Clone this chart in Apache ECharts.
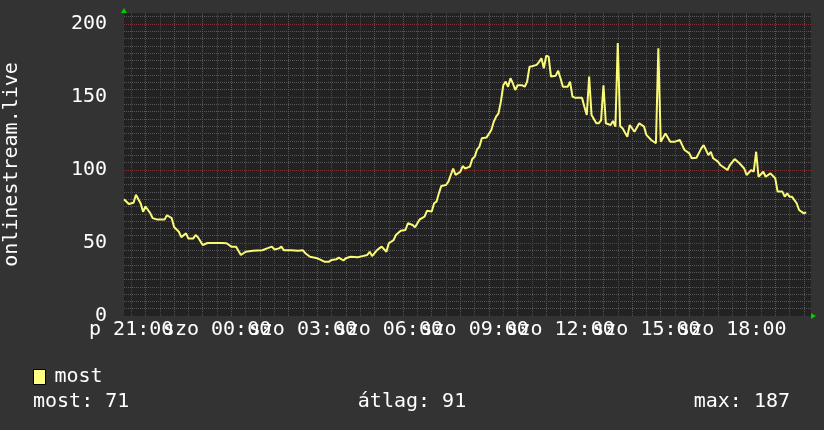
<!DOCTYPE html>
<html>
<head>
<meta charset="utf-8">
<script src="https://cdn.jsdelivr.net/npm/echarts@6/dist/echarts.min.js"></script>
<style>html,body{margin:0;padding:0;background:#333;}#c{width:824px;height:430px;}</style>
</head>
<body>
<div id="c"></div>
<script>
// Sampled readings (Fri "p" 20:45 .. Sat "szo" 20:35)
const times = ["20:45","20:55","21:05","21:10","21:20","21:25","21:30","21:40","21:45","21:55",
"22:10","22:15","22:25","22:30","22:40","22:45","22:55","23:00","23:10","23:15","23:20","23:30","23:40","23:55",
"00:10","00:20","00:30","00:40","00:50","01:00","01:15","01:35","01:45","01:55","02:00","02:10","02:15","02:20","02:35","02:50",
"03:00","03:05","03:15","03:30","03:35","03:45","03:55","04:00","04:10","04:15","04:25","04:30","04:40","04:55",
"05:05","05:15","05:20","05:25","05:35","05:40","05:45","05:55","06:00","06:10","06:15","06:25","06:35","06:40","06:50","06:55",
"07:00","07:05","07:15","07:20","07:30","07:35","07:40","07:45","07:50","08:00","08:05","08:10","08:15","08:20","08:25","08:30","08:35","08:40","08:50","08:55",
"09:00","09:05","09:10","09:15","09:25","09:35","09:40","09:45","09:50","09:55","10:00","10:05","10:10","10:15","10:20","10:25","10:30","10:40","10:45","10:50","10:55",
"11:00","11:10","11:15","11:20","11:25","11:30","11:35","11:40","11:50","11:55","12:00","12:05","12:15","12:20","12:25","12:30","12:45","12:50","12:55",
"13:00","13:05","13:15","13:20","13:25","13:30","13:35","13:45","13:50","13:55","14:00","14:05","14:10","14:20","14:25","14:35","14:45","14:55",
"15:00","15:10","15:20","15:25","15:30","15:40","15:50","16:00","16:10","16:15","16:20","16:30","16:35","16:45","16:55",
"17:00","17:10","17:15","17:20","17:30","17:35","17:50","17:55","18:05","18:15","18:25","18:30","18:40","18:45","18:50","18:55",
"19:05","19:10","19:20","19:30","19:35","19:45","19:50","19:55","20:00","20:05","20:15","20:20","20:30","20:35"];
const values = [80,76.7,77.6,83,77,71.4,75,70.5,67,66,
66,69,67,61,57.7,54,56.6,53,53,55.5,54,48.6,50,50,
50,49.8,47.5,47.5,41.8,44,44.7,45,46.3,47.5,45.6,46.3,47.5,45,45,44.7,
45,43,40.6,39.5,38.8,37.2,37.2,38.4,38.8,40,38,39.5,40.6,40.2,
41,41.8,44,41,45,46.3,47.5,44,49.8,52,55.5,58.4,58.9,63.5,62.3,60.7,
63.5,66.2,68,72,71.5,77.2,78.3,84,89,89.7,92,96.6,101,96.6,97.7,98.8,102.7,101,102.3,107.5,
109,114,116,121.7,122.3,127.4,133,136.5,138.8,146.8,158,160.5,157,162.8,159.4,154.8,158,158,157,160.5,170.7,
171,172,174,176.5,169.6,178.3,177.6,164,164.6,168,162.8,157,157,160.5,150.2,149.5,149.5,143.3,137.7,
164,137.7,132,132,134,158,132,130.8,133.6,129.7,187,130,128.5,122.8,130.8,126.2,132,129.7,
124,120.5,118.3,183.3,119.4,125,119.4,119.4,120.5,117,113.7,111.4,108,108.4,114.8,
117,110.2,112.5,108,105.7,103.4,100,103.4,107.5,104.6,101,96.6,100,98.8,112.5,95.4,
98.8,95.4,97.7,94.3,85.2,85.2,81.7,84,81.7,81.7,77.2,72.6,70.3,71];
const seriesName = "most";
const axisTitle = "onlinestream.live";
const dayNames = ["p", "szo"];
const labelHoursA = [21, 3, 9, 15];   // x tick labels, set A
const labelHoursB = [0, 6, 12, 18];   // x tick labels, set B
const statLabels = ["most", "átlag", "max"];
const statValues = [71, 91, 187];

const START = 20 * 60 + 45; // 20:45 Friday
const STEP = 5;
const SLOTS = 289;
const categories = [];
for (let i = 0; i < SLOTS; i++) {
  const m = START + i * STEP;
  const day = m < 1440 ? dayNames[0] : dayNames[1];
  const mm = m % 1440;
  const hh = Math.floor(mm / 60), mi = mm % 60;
  categories.push(day + " " + String(hh).padStart(2, "0") + ":" + String(mi).padStart(2, "0"));
}
function slotOf(t) {
  const [h, m] = t.split(":").map(Number);
  let v = h * 60 + m;
  if (v < START) v += 1440;
  return (v - START) / STEP;
}
const data = times.map((t, i) => [slotOf(t), values[i]]);
function minuteOf(name) { return Number(name.slice(-2)); }
function hourOf(name) { return Number(name.slice(-5, -3)); }

const FONT = "DejaVu Sans Mono";
const labelBase = { show: true, color: "#ffffff", fontFamily: FONT, fontSize: 20, margin: 4, hideOverlap: false };
const chart = echarts.init(document.getElementById("c"), null, { renderer: "canvas" });
chart.setOption({
  backgroundColor: "#333333",
  animation: false,
  grid: { left: 124, right: 13, top: 13, bottom: 114, show: true, backgroundColor: "#222222", borderWidth: 0, containLabel: false, outerBoundsMode: "none" },
  title: [
    { text: statLabels[0] + ": " + statValues[0], left: 33, top: 392 },
    { text: statLabels[1] + ": " + statValues[1], left: "center", top: 392 },
    { text: statLabels[2] + ": " + statValues[2], right: 34, top: 392 }
  ].map(t => Object.assign(t, { padding: 0, textStyle: { color: "#ffffff", fontFamily: FONT, fontSize: 20, fontWeight: "normal" } })),
  legend: {
    left: 33, top: 367, padding: 0, itemWidth: 12, itemHeight: 15, icon: "rect",
    data: [{ name: seriesName, itemStyle: { color: "#ffff80", borderColor: "#000", borderWidth: 1 } }],
    textStyle: { color: "#ffffff", fontFamily: FONT, fontSize: 20, padding: [0, 0, 0, 4] }
  },
  xAxis: [
    {
      type: "category", data: categories, boundaryGap: false, position: "bottom", z: 0,
      axisLine: { show: false }, axisTick: { show: false },
      axisLabel: Object.assign({}, labelBase, { interval: (i, v) => minuteOf(v) === 0 && labelHoursA.includes(hourOf(v)) }),
      splitLine: { show: true, interval: (i, v) => minuteOf(v) === 30, lineStyle: { color: "#575757", type: [1, 1], width: 1 } }
    },
    {
      type: "category", data: categories, boundaryGap: false, position: "bottom", z: 1,
      axisLine: { show: true, symbol: ["none", "triangle"], symbolSize: [6, 5], symbolOffset: [0, 2.5], lineStyle: { color: "#00cc00", width: 0 } },
      axisTick: { show: false },
      axisLabel: Object.assign({}, labelBase, { interval: (i, v) => minuteOf(v) === 0 && labelHoursB.includes(hourOf(v)) }),
      splitLine: { show: true, interval: (i, v) => minuteOf(v) === 0, lineStyle: { color: "#7a3434", type: [1, 1], width: 1 } }
    }
  ],
  yAxis: [
    {
      type: "value", min: 0, max: 207.5, interval: 5, position: "right", z: 0,
      axisLine: { show: false }, axisTick: { show: false }, axisLabel: { show: false },
      splitLine: { show: true, showMinLine: false, showMaxLine: false, lineStyle: { color: "#575757", type: [1, 1], width: 1 } }
    },
    {
      type: "value", min: 0, max: 207.5, interval: 50, position: "left", z: 1,
      name: axisTitle, nameLocation: "middle", nameGap: 102,
      nameTextStyle: { color: "#ffffff", fontFamily: FONT, fontSize: 20 },
      axisLine: { show: true, symbol: ["none", "triangle"], symbolSize: [6, 5], symbolOffset: [0, 2.5], lineStyle: { color: "#00cc00", width: 0 } },
      axisTick: { show: false },
      axisLabel: { show: true, color: "#ffffff", fontFamily: FONT, fontSize: 20, margin: 17, showMaxLabel: false },
      splitLine: { show: true, showMinLine: false, showMaxLine: false, lineStyle: { color: "#7a3434", type: [1, 1], width: 1 } }
    }
  ],
  series: [{
    name: seriesName, type: "line", xAxisIndex: 1, yAxisIndex: 1, data: data,
    showSymbol: false, symbol: "none", connectNulls: true,
    lineStyle: { color: "#fafa78", width: 2 }, itemStyle: { color: "#ffff80" }, z: 3
  }]
});
</script>
</body>
</html>
